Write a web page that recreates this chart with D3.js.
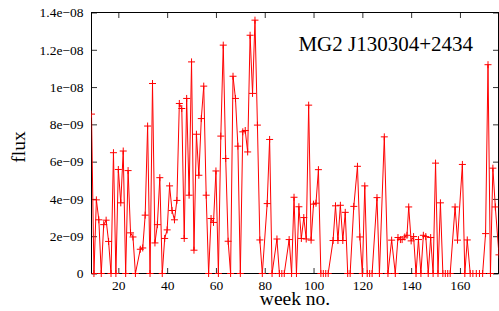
<!DOCTYPE html>
<html>
<head>
<meta charset="utf-8">
<script src="https://cdn.jsdelivr.net/npm/d3@7"></script>
<style>
	body { margin: 0; background: #fff; }
	svg { display: block; font-family: "Liberation Serif", "Times New Roman", serif; }
	.tick line { stroke: #333; }
	.tick text { font-family: "Liberation Serif", "Times New Roman", serif; font-size: 13.5px; fill: #000; }
</style>
</head>
<body>
<div class="container"></div>
<script>

// week numbers and flux (in units of 1e-9)
const weeks = [
	9, 10, 11, 12, 13, 14, 15, 16, 17, 18, 19, 20, 21, 22, 23, 24, 25, 26, 27, 29,
	30, 31, 32, 33, 34, 35, 36, 37, 38, 39, 40, 41, 42, 43, 44, 45, 46, 47, 48, 49,
	50, 51, 52, 53, 54, 55, 56, 57, 58, 59, 60, 61, 62, 63, 64, 65, 66, 67, 68, 69,
	70, 71, 72, 73, 74, 75, 76, 77, 78, 79, 81, 82, 83, 85, 86, 87, 88, 90, 91, 92,
	93, 94, 95, 96, 97, 98, 99, 100, 101, 102, 103, 104, 105, 106, 108, 109, 110, 111, 112, 113,
	114, 115, 116.5, 118, 119, 120, 121, 122, 123, 124, 126, 127, 129, 130.5, 132, 133.5, 134.6, 135.6, 136.3, 137.4,
	138.3, 139, 140, 141, 142, 143, 144, 145, 146, 147, 148, 149, 150, 151, 152, 153, 154, 155, 156, 158,
	159, 161, 162, 163, 164.2, 165.3, 166.7, 168, 169.3, 170.5, 171.5, 172.5, 173.5, 174.5, 176
];

const flux = [
	8.55, 0, 3.95, 2.88, 0, 2.62, 2.86, 1.72, 0, 6.48, 0, 5.58, 3.79, 6.57, 0, 5.52, 2.18, 1.96, 0, 1.30,
	1.37, 3.13, 7.91, 0, 10.19, 1.64, 2.62, 5.14, 0, 1.88, 2.34, 4.7, 3.38, 2.88, 3.92, 9.12, 8.85, 1.88, 9.39, 4.2,
	11.35, 1.25, 7.47, 5.27, 8.31, 10.05, 4.2, 0, 2.95, 2.74, 5.5, 0, 7.37, 12.25, 6.17, 1.73, 0, 10.58, 9.39, 6.83,
	0, 7.6, 7.67, 6.52, 12.78, 9.66, 13.59, 7.96, 1.8, 0, 3.75, 7.19, 0, 1.85, 0, 0, 0, 1.82, 0, 4.09,
	0, 3.58, 1.88, 3.0, 1.85, 9.03, 1.79, 3.72, 3.77, 5.57, 0, 0, 0, 0, 1.77, 3.63, 1.77, 3.66, 1.77, 3.28,
	0, 0, 3.6, 5.75, 1.96, 0, 4.7, 0, 0, 0, 4.07, 0, 7.33, 0, 1.79, 0, 1.93, 1.82, 1.82, 1.96,
	2.05, 3.57, 1.75, 1.98, 0, 1.82, 0, 2.05, 1.98, 0, 1.93, 0, 5.92, 0, 3.79, 0, 0, 0, 0, 3.57,
	1.79, 5.85, 0, 1.8, 0, 0, 0, 0, 0, 2.14, 11.2, 0, 5.65, 3.57, 1.0
];

const xTicks = [20, 40, 60, 80, 100, 120, 140, 160];
const yTicks = [0, 2, 4, 6, 8, 10, 12, 14];
const yTickLabels = ["0", "2e\u221209", "4e\u221209", "6e\u221209", "8e\u221209", "1e\u221208", "1.2e\u221208", "1.4e\u221208"];

const width = 499, height = 311;
const box = { left: 91.5, right: 498.5, top: 12.5, bottom: 273.5 };
const tickLen = 5.5;

const svg = d3
		.select(".container")
		.append("svg")
			.attr("width", width)
			.attr("height", height);

const x = d3
		.scaleLinear()
		.domain([9, 175.8])
		.range([box.left, box.right]);

const y = d3
		.scaleLinear()
		.domain([0, 14])
		.range([box.bottom, box.top]);

// drop d3's default sans-serif so the serif from the css applies
const plain = g => {
	g.attr("font-family", null).attr("font-size", null);
	g.select(".domain").remove();
};

// axes, ticks pointing inwards like gnuplot
svg.append("g")
		.attr("transform", `translate(0, ${ box.bottom })`)
		.call(d3.axisBottom(x).tickValues(xTicks).tickSizeInner(-tickLen).tickSizeOuter(0).tickPadding(7))
		.call(plain);

svg.append("g")
		.attr("transform", `translate(0, ${ box.top })`)
		.call(d3.axisTop(x).tickValues(xTicks).tickSizeInner(-tickLen).tickSizeOuter(0).tickFormat(""))
		.call(plain);

svg.append("g")
		.attr("transform", `translate(${ box.left }, 0)`)
		.call(d3.axisLeft(y).tickValues(yTicks).tickSizeInner(-tickLen).tickSizeOuter(0).tickPadding(8)
			.tickFormat((d, i) => yTickLabels[i]))
		.call(plain);

svg.append("g")
		.attr("transform", `translate(${ box.right }, 0)`)
		.call(d3.axisRight(y).tickValues(yTicks).tickSizeInner(-tickLen).tickSizeOuter(0).tickFormat(""))
		.call(plain);

svg.append("rect")
		.attr("x", box.left)
		.attr("y", box.top)
		.attr("width", box.right - box.left)
		.attr("height", box.bottom - box.top)
		.attr("fill", "none")
		.attr("stroke", "#000")
		.attr("stroke-width", 1);

svg.append("clipPath")
		.attr("id", "plot-area")
	.append("rect")
		.attr("x", box.left)
		.attr("y", box.top - 4)
		.attr("width", box.right - box.left)
		.attr("height", box.bottom - box.top + 8);

const points = weeks.map((w, i) => ({ week: w, flux: flux[i] }));

const plot = svg.append("g").attr("clip-path", "url(#plot-area)");

plot.append("path")
		.datum(points)
		.attr("fill", "none")
		.attr("stroke", "#ff0000")
		.attr("stroke-width", 1)
		.attr("d", d3.line().x(d => x(d.week)).y(d => y(d.flux)));

const marker = 3.5;

plot.selectAll("path.mark")
		.data(points)
		.enter()
	.append("path")
		.attr("class", "mark")
		.attr("stroke", "#ff0000")
		.attr("stroke-width", 1)
		.attr("d", d => {
			const px = x(d.week), py = y(d.flux);
			return `M${ px - marker },${ py }H${ px + marker }M${ px },${ py - marker }V${ py + marker }`;
		});

// labels
svg.append("text")
		.attr("x", 473)
		.attr("y", 50.5)
		.attr("text-anchor", "end")
		.attr("font-size", "21px")
		.text("MG2 J130304+2434");

svg.append("text")
		.attr("transform", `translate(25, ${ (box.top + box.bottom) / 2 + 4 }) rotate(-90)`)
		.attr("text-anchor", "middle")
		.attr("font-size", "19.5px")
		.text("flux");

svg.append("text")
		.attr("x", (box.left + box.right) / 2)
		.attr("y", 304.5)
		.attr("text-anchor", "middle")
		.attr("font-size", "19.5px")
		.text("week no.");

</script>
</body>
</html>
